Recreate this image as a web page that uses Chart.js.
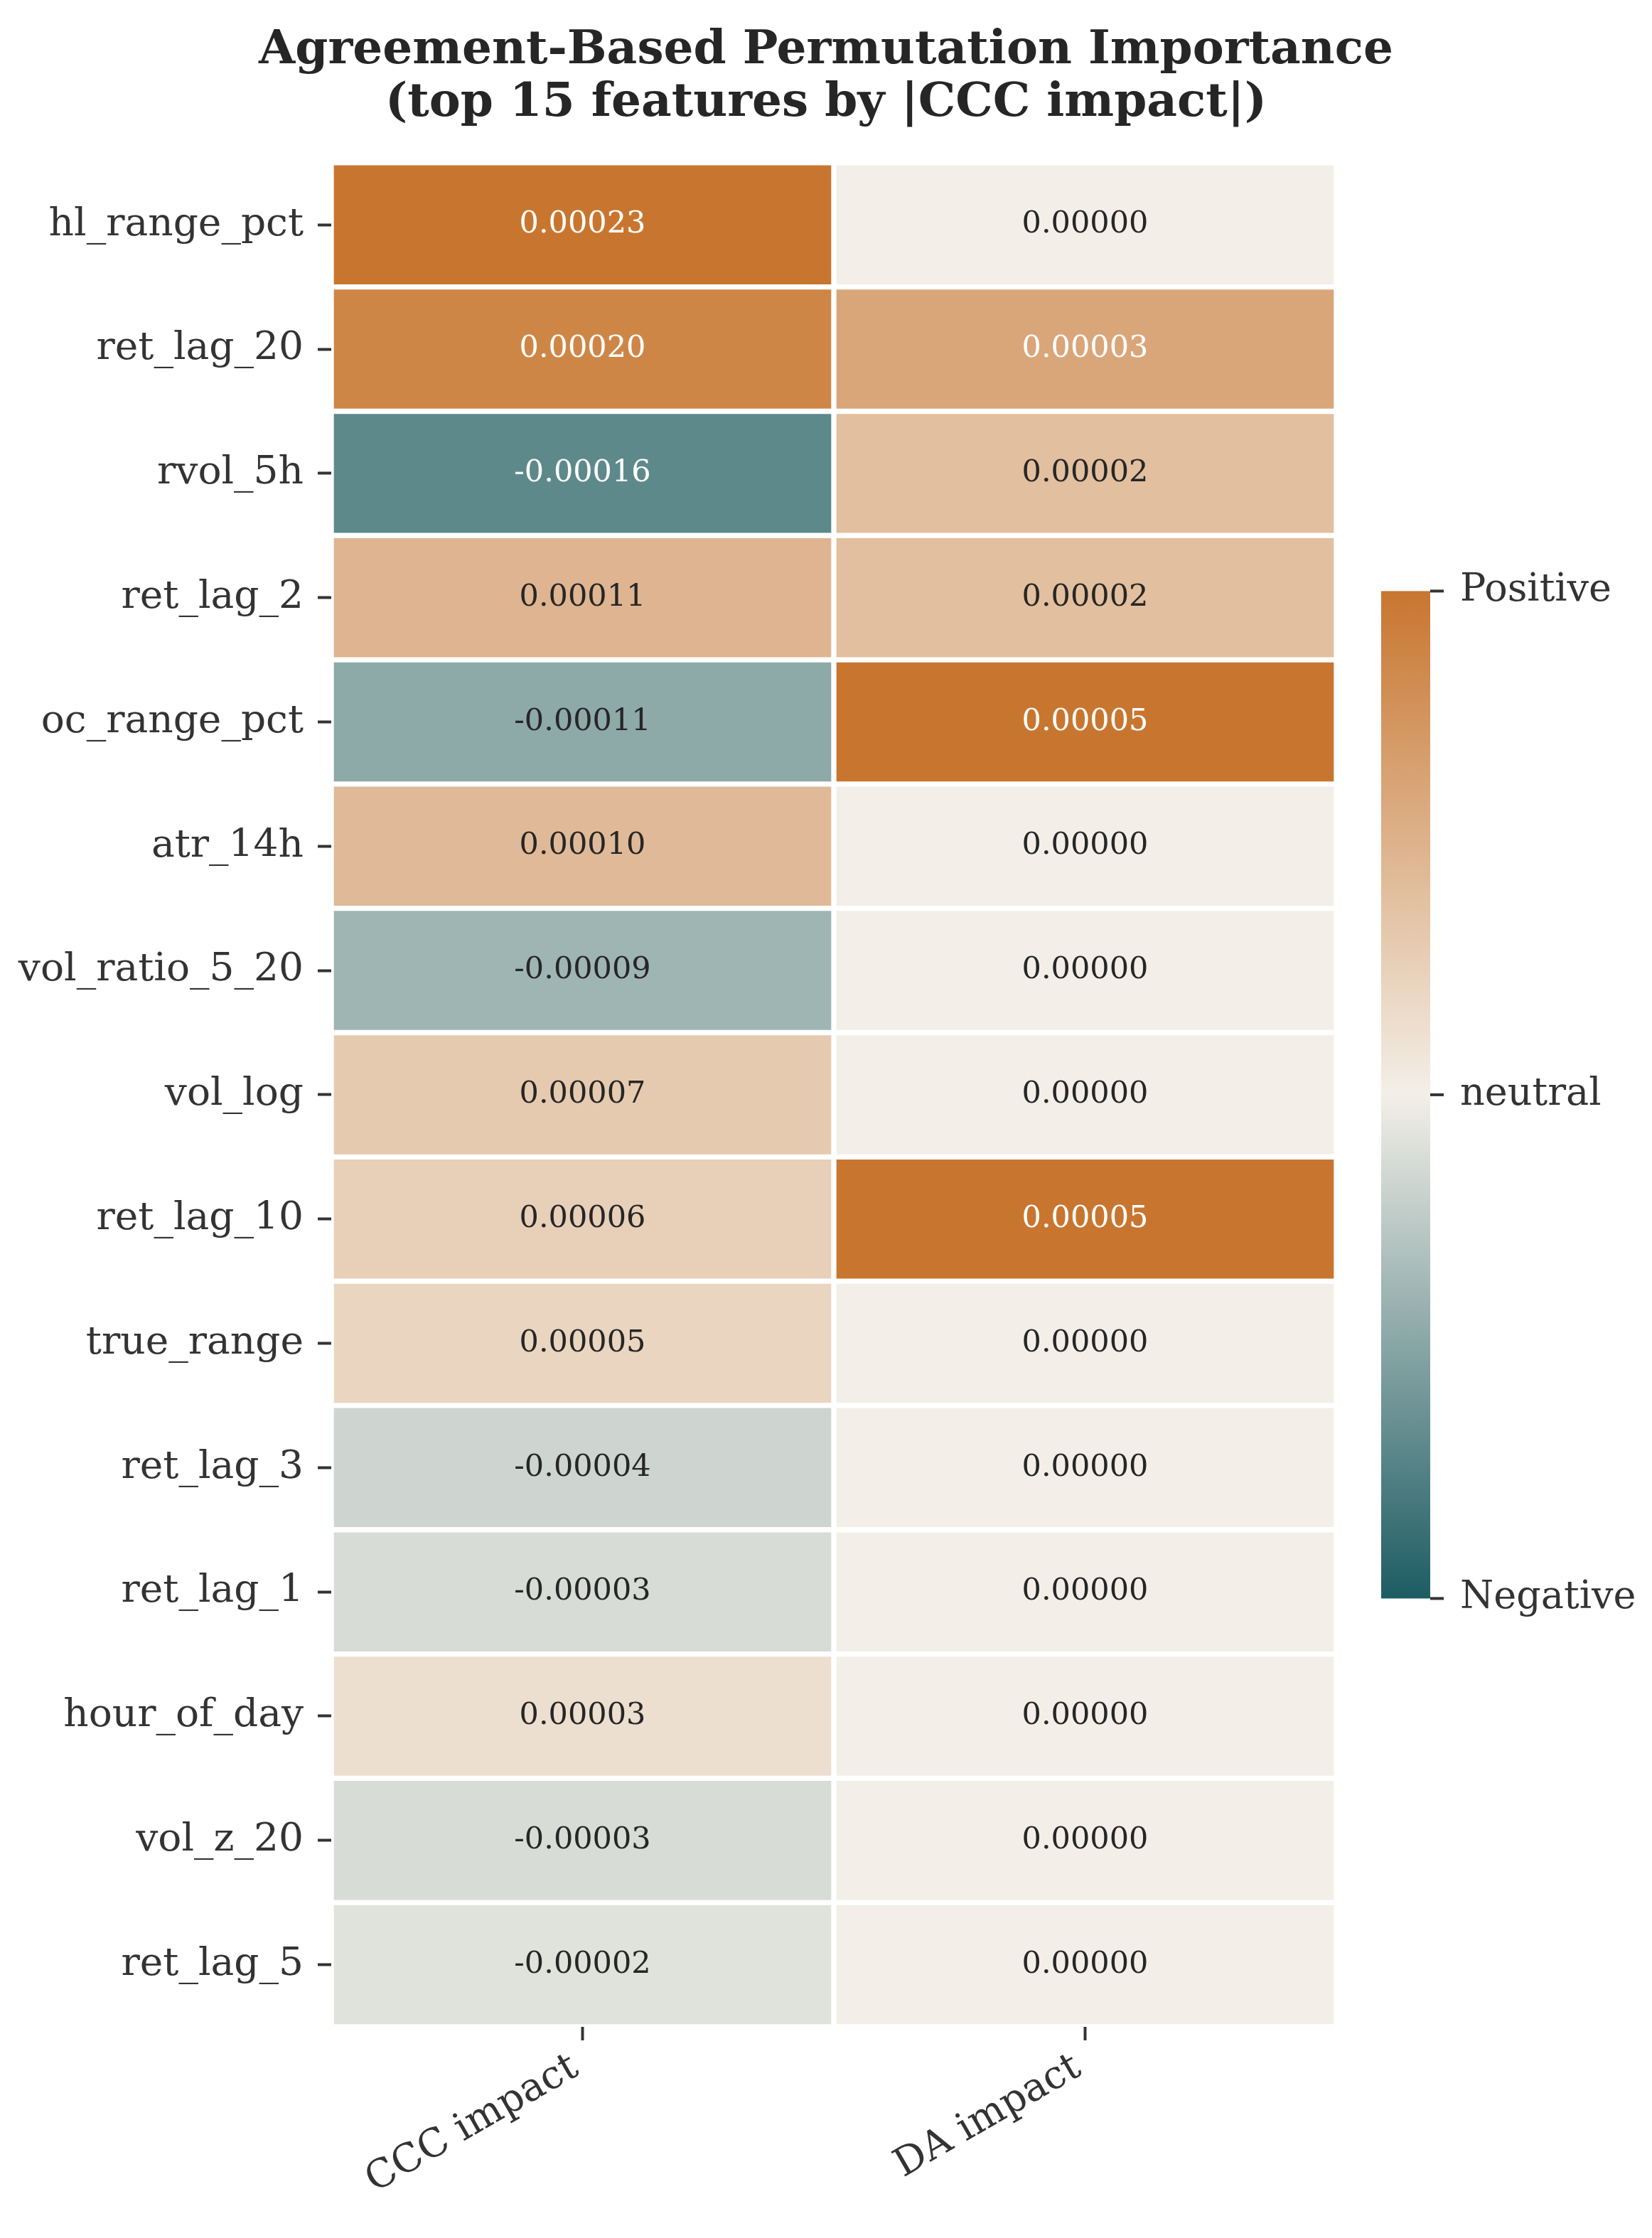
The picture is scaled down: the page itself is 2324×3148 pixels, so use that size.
<!DOCTYPE html>
<html>
<head>
<meta charset="utf-8">
<script src="https://cdn.jsdelivr.net/npm/chart.js@4.4.1/dist/chart.umd.min.js"></script>
<style>
  html, body { margin: 0; padding: 0; background: #ffffff; }
  #wrap { width: 2324px; height: 3148px; }
</style>
</head>
<body>
<div id="wrap"><canvas id="heatmap" width="2324" height="3148"></canvas></div>
<script>
// Features, top 15 by |CCC impact|
const features = [
    'hl_range_pct', 'ret_lag_20', 'rvol_5h', 'ret_lag_2', 'oc_range_pct',
    'atr_14h', 'vol_ratio_5_20', 'vol_log', 'ret_lag_10', 'true_range',
    'ret_lag_3', 'ret_lag_1', 'hour_of_day', 'vol_z_20', 'ret_lag_5'
];
const columns = ['CCC impact', 'DA impact'];

const cccImpact = [
    0.00023, 0.00020, -0.00016, 0.00011, -0.00011,
    0.00010, -0.00009, 0.00007, 0.00006, 0.00005,
    -0.00004, -0.00003, 0.00003, -0.00003, -0.00002
];
const daImpact = [
    0.00000, 0.00003, 0.00002, 0.00002, 0.00005,
    0.00000, 0.00000, 0.00000, 0.00005, 0.00000,
    0.00000, 0.00000, 0.00000, 0.00000, 0.00000
];

const colorbarTicks = ['Positive', 'neutral', 'Negative'];

// colores del mapa divergente
const NEG = [29, 92, 99];
const MID = [243, 239, 232];
const POS = [200, 118, 47];
const TEXT = '#333333';
const FONT = "'DejaVu Serif', 'Liberation Serif', serif";

function mix(a, b, t) {
    return [0, 1, 2].map(i => Math.round(a[i] + (b[i] - a[i]) * t));
}

// valor normalizado en [-1, 1] -> color rgb
function cmap(n) {
    n = Math.max(-1, Math.min(1, n));
    return n >= 0 ? mix(MID, POS, n) : mix(MID, NEG, -n);
}

function rgbStr(c) {
    return 'rgb(' + c[0] + ',' + c[1] + ',' + c[2] + ')';
}

// cada columna se normaliza por su máximo absoluto
function normalize(arr) {
    const m = Math.max(...arr.map(Math.abs)) || 1;
    return arr.map(v => v / m);
}

const cccNorm = normalize(cccImpact);
const daNorm = normalize(daImpact);
const cccColors = cccNorm.map(cmap);
const daColors = daNorm.map(cmap);

// Etiquetas de valor dentro de cada celda
const cellLabels = {
    id: 'cellLabels',
    afterDatasetsDraw(chart) {
        const ctx = chart.ctx;
        ctx.save();
        ctx.font = '43px ' + FONT;
        ctx.textAlign = 'center';
        ctx.textBaseline = 'middle';
        chart.data.datasets.forEach((ds, di) => {
            const meta = chart.getDatasetMeta(di);
            const values = di === 0 ? cccImpact : daImpact;
            const norm = di === 0 ? cccNorm : daNorm;
            meta.data.forEach((bar, i) => {
                const cx = (bar.x + bar.base) / 2;
                ctx.fillStyle = Math.abs(norm[i]) > 0.5 ? '#ffffff' : '#262626';
                ctx.fillText(values[i].toFixed(5), cx, bar.y);
            });
        });
        ctx.restore();
    }
};

// Barra de color a la derecha
const colorbar = {
    id: 'colorbar',
    afterDraw(chart) {
        const ctx = chart.ctx;
        const area = chart.chartArea;
        const h = area.bottom - area.top;
        const cbH = h * 0.5404;
        const mid = (area.top + area.bottom) / 2;
        const top = mid - cbH / 2;
        const bottom = mid + cbH / 2;
        const x0 = area.right + 63;
        const x1 = x0 + 69;

        ctx.save();
        const grad = ctx.createLinearGradient(0, top, 0, bottom);
        grad.addColorStop(0, rgbStr(POS));
        grad.addColorStop(0.5, rgbStr(MID));
        grad.addColorStop(1, rgbStr(NEG));
        ctx.fillStyle = grad;
        ctx.fillRect(x0, top, x1 - x0, bottom - top);

        ctx.strokeStyle = TEXT;
        ctx.lineWidth = 4;
        ctx.fillStyle = TEXT;
        ctx.font = '54px ' + FONT;
        ctx.textAlign = 'left';
        ctx.textBaseline = 'middle';
        [top, mid, bottom].forEach((y, i) => {
            ctx.beginPath();
            ctx.moveTo(x1, y);
            ctx.lineTo(x1 + 19, y);
            ctx.stroke();
            ctx.fillText(colorbarTicks[i], x1 + 42, y);
        });
        ctx.restore();
    }
};

new Chart(document.getElementById('heatmap'), {
    type: 'bar',
    data: {
        labels: features,
        datasets: [
            {
                label: columns[0],
                data: cccImpact.map(() => [0, 1]),
                backgroundColor: cccColors.map(rgbStr),
                borderColor: '#ffffff',
                borderWidth: 4,
                borderSkipped: false,
                grouped: false,
                barPercentage: 1,
                categoryPercentage: 1
            },
            {
                label: columns[1],
                data: daImpact.map(() => [1, 2]),
                backgroundColor: daColors.map(rgbStr),
                borderColor: '#ffffff',
                borderWidth: 4,
                borderSkipped: false,
                grouped: false,
                barPercentage: 1,
                categoryPercentage: 1
            }
        ]
    },
    options: {
        indexAxis: 'y',
        responsive: false,
        animation: false,
        devicePixelRatio: 1,
        layout: {
            padding: 0
        },
        scales: {
            x: {
                type: 'linear',
                min: 0,
                max: 2,
                afterBuildTicks: function(scale) {
                    scale.ticks = [{ value: 0.5 }, { value: 1.5 }];
                },
                afterFit: function(scale) {
                    scale.height = 297;
                    scale.paddingLeft = 0;
                    scale.paddingRight = 0;
                },
                border: { display: false },
                grid: {
                    drawOnChartArea: false,
                    drawTicks: true,
                    tickLength: 19,
                    tickWidth: 4,
                    tickColor: TEXT
                },
                ticks: {
                    autoSkip: false,
                    minRotation: 30,
                    maxRotation: 30,
                    padding: 6,
                    labelOffset: -10,
                    color: TEXT,
                    font: { family: FONT, size: 55 },
                    callback: function(value) {
                        return columns[Math.floor(value)];
                    }
                }
            },
            y: {
                type: 'category',
                offset: true,
                afterFit: function(scale) {
                    scale.width = 466;
                    scale.paddingTop = 0;
                    scale.paddingBottom = 0;
                },
                border: { display: false },
                grid: {
                    offset: false,
                    drawOnChartArea: false,
                    drawTicks: true,
                    tickLength: 19,
                    tickWidth: 4,
                    tickColor: TEXT
                },
                ticks: {
                    autoSkip: false,
                    padding: 20,
                    color: TEXT,
                    font: { family: FONT, size: 55 }
                }
            },
            // espacio reservado para la barra de color
            yRight: {
                type: 'linear',
                position: 'right',
                display: true,
                afterFit: function(scale) {
                    scale.width = 444;
                    scale.paddingTop = 0;
                    scale.paddingBottom = 0;
                },
                border: { display: false },
                grid: { display: false },
                ticks: { display: false }
            }
        },
        plugins: {
            legend: { display: false },
            tooltip: { enabled: false },
            title: {
                display: true,
                text: ['Agreement-Based Permutation Importance', '(top 15 features by |CCC impact|)'],
                color: '#262626',
                font: { family: FONT, size: 66, weight: 'bold', lineHeight: 1.12 },
                padding: { top: 35, bottom: 46 }
            }
        }
    },
    plugins: [cellLabels, colorbar]
});
</script>
</body>
</html>
